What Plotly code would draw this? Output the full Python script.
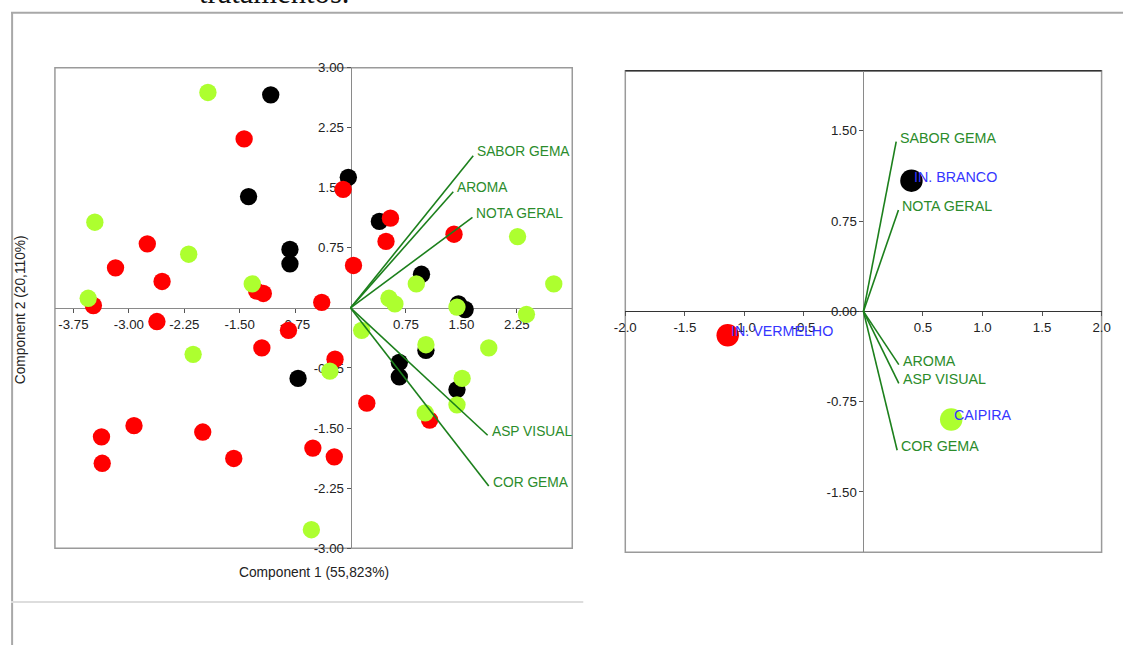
import plotly.graph_objects as go

W, H = 1132, 653

# ---- PCA scores per treatment (Component 1, Component 2) ----
branco_x = [-1.08, -0.03, -1.38, -0.82, -0.82, 0.39, 0.96, 1.46, 1.55, -0.71, 1.02, 0.66, 0.66, 1.44]
branco_y = [2.66, 1.63, 1.39, 0.73, 0.55, 1.08, 0.42, 0.05, -0.02, -0.88, -0.53, -0.68, -0.86, -1.02]

vermelho_x = [-1.44, -0.10, -2.75, -3.18, -2.55, -1.27, -1.18, -3.48, -0.39, 0.04, 0.54, 0.48, 1.40,
              -2.62, -0.84, -1.20, -0.21, -2.93, -3.37, -2.00, -3.36, -1.58, -0.51, -0.22, 0.22, 1.07]
vermelho_y = [2.11, 1.48, 0.80, 0.50, 0.33, 0.21, 0.18, 0.03, 0.07, 0.53, 1.12, 0.83, 0.92,
              -0.17, -0.28, -0.50, -0.64, -1.47, -1.61, -1.55, -1.94, -1.88, -1.75, -1.86, -1.19, -1.40]

caipira_x = [-1.93, -3.46, -2.19, -1.33, -3.55, 2.26, 0.89, 2.75, 0.52, 0.60, 1.44, 2.38,
             -2.13, -0.28, -0.53, 0.15, 1.02, 1.87, 1.51, 1.44, 1.01]
caipira_y = [2.69, 1.07, 0.67, 0.30, 0.12, 0.89, 0.30, 0.30, 0.12, 0.05, 0.01, -0.08,
             -0.58, -0.79, -2.77, -0.28, -0.46, -0.50, -0.88, -1.21, -1.31]

# ---- variable loadings ----
variables = ["SABOR GEMA", "AROMA", "NOTA GERAL", "ASP VISUAL", "COR GEMA"]
load_scores_x = [1.66, 1.39, 1.65, 1.855, 1.87]
load_scores_y = [1.90, 1.45, 1.13, -1.59, -2.225]

load_means_x = [0.275, 0.297, 0.294, 0.297, 0.283]
load_means_y = [1.41, -0.442, 0.842, -0.598, -1.153]

# ---- treatment means ----
groups = ["IN. BRANCO", "IN. VERMELHO", "CAIPIRA"]
group_colors = ["#000000", "#ff0000", "#adff2f"]
mean_x = [0.403, -1.14, 0.737]
mean_y = [1.086, -0.198, -0.898]

# ---- axis ticks ----
left_xticks = [-3.75, -3.00, -2.25, -1.50, -0.75, 0.75, 1.50, 2.25]
left_yticks = [3.00, 2.25, 1.50, 0.75, -0.75, -1.50, -2.25, -3.00]
right_xticks = [-2.0, -1.5, -1.0, -0.5, 0.5, 1.0, 1.5, 2.0]
right_yticks = [1.50, 0.75, 0.00, -0.75, -1.50]

LINE_GREEN = "#1c801c"
TEXT_GREEN = "#2b8c2b"
TEXT_BLUE = "#3535ff"
FONT = "Liberation Sans, Arial, sans-serif"

# Layout positions are measured in sheet pixels; the canvas shows the sheet
# at a slight reduction with an offset, so convert through that calibration.
SX, OX = 0.9817, 11.1
SY, OY = 0.978, 6.3
K = 1 / ((SX + SY) / 2)  # size correction for fonts / markers


def px_x(px):
    return ((px - OX) / SX) / W


def px_y(py):
    return 1 - ((py - OY) / SY) / H


# plot areas in paper space
L_dom_x = [px_x(55), px_x(572)]
L_dom_y = [px_y(548), px_y(67)]
R_dom_x = [px_x(625), px_x(1101)]
R_dom_y = [px_y(552), px_y(70)]

L_xr, L_yr = [-4, 3], [-3, 3]
R_xr, R_yr = [-2, 2], [-2, 2]


def zero_pos(dom, rng):
    return dom[0] + (0 - rng[0]) / (rng[1] - rng[0]) * (dom[1] - dom[0])


def segs(xs, ys):
    sx, sy = [], []
    for a, b in zip(xs, ys):
        sx += [0, a, None]
        sy += [0, b, None]
    return sx, sy


fig = go.Figure()

# left biplot: scores
for xs, ys, col in [(branco_x, branco_y, group_colors[0]),
                    (vermelho_x, vermelho_y, group_colors[1]),
                    (caipira_x, caipira_y, group_colors[2])]:
    fig.add_trace(go.Scatter(x=xs, y=ys, mode="markers", xaxis="x", yaxis="y",
                             marker=dict(size=17 * K, color=col, line=dict(width=0)),
                             showlegend=False, hoverinfo="skip"))

lx, ly = segs(load_scores_x, load_scores_y)
fig.add_trace(go.Scatter(x=lx, y=ly, mode="lines", xaxis="x", yaxis="y",
                         line=dict(color=LINE_GREEN, width=1.6), showlegend=False, hoverinfo="skip"))

# right biplot: loadings and treatment means
rx, ry = segs(load_means_x, load_means_y)
fig.add_trace(go.Scatter(x=rx, y=ry, mode="lines", xaxis="x2", yaxis="y2",
                         line=dict(color=LINE_GREEN, width=1.6), showlegend=False, hoverinfo="skip"))
fig.add_trace(go.Scatter(x=mean_x, y=mean_y, mode="markers", xaxis="x2", yaxis="y2",
                         marker=dict(size=22 * K, color=group_colors, line=dict(width=0)),
                         showlegend=False, hoverinfo="skip"))

annotations = []
for name, x, y in zip(variables, load_scores_x, load_scores_y):
    annotations.append(dict(x=x, y=y, xref="x", yref="y", text=name, showarrow=False,
                            xanchor="left", yanchor="middle", xshift=2, yshift=4,
                            font=dict(family=FONT, size=13.5 * K, color=TEXT_GREEN)))
for name, x, y in zip(variables, load_means_x, load_means_y):
    annotations.append(dict(x=x, y=y, xref="x2", yref="y2", text=name, showarrow=False,
                            xanchor="left", yanchor="middle", xshift=2, yshift=4,
                            font=dict(family=FONT, size=14 * K, color=TEXT_GREEN)))
for name, x, y in zip(groups, mean_x, mean_y):
    annotations.append(dict(x=x, y=y, xref="x2", yref="y2", text=name, showarrow=False,
                            xanchor="left", yanchor="middle", xshift=1, yshift=4,
                            font=dict(family=FONT, size=14 * K, color=TEXT_BLUE)))

annotations += [
    dict(x=px_x(313.5), y=px_y(572), xref="paper", yref="paper", text="Component 1 (55,823%)",
         showarrow=False, xanchor="center", yanchor="middle",
         font=dict(family=FONT, size=13.5 * K, color="#222222")),
    dict(x=px_x(20), y=px_y(309), xref="paper", yref="paper", text="Component 2 (20,110%)",
         showarrow=False, xanchor="center", yanchor="middle", textangle=-90,
         font=dict(family=FONT, size=13.5 * K, color="#222222")),
    # caption line running off the top of the sheet
    dict(x=px_x(274), y=1, xref="paper", yref="paper", text="tratamentos.",
         showarrow=False, xanchor="center", yanchor="middle", yshift=14,
         font=dict(family="Liberation Serif, Times New Roman, serif", size=30 * K, color="#111111")),
]

tickfont = dict(family=FONT, size=13 * K, color="#222222")


def axis(dom, rng, tickvals, fmt, pos, color):
    return dict(domain=dom, range=rng, anchor="free", position=pos,
                tickmode="array", tickvals=tickvals, ticktext=[fmt.format(v) for v in tickvals],
                ticks="outside", ticklen=4, tickcolor="#555555", tickfont=tickfont,
                showline=True, linecolor=color, linewidth=1, showgrid=False, zeroline=False,
                layer="below traces", fixedrange=True)


fig.update_layout(
    width=W, height=H, autosize=False,
    margin=dict(l=0, r=0, t=0, b=0),
    paper_bgcolor="white", plot_bgcolor="white",
    xaxis=axis(L_dom_x, L_xr, left_xticks, "{:.2f}", zero_pos(L_dom_y, L_yr), "#8a8a8a"),
    yaxis=axis(L_dom_y, L_yr, left_yticks, "{:.2f}", zero_pos(L_dom_x, L_xr), "#8a8a8a"),
    xaxis2=axis(R_dom_x, R_xr, right_xticks, "{:.1f}", zero_pos(R_dom_y, R_yr), "#333333"),
    yaxis2=axis(R_dom_y, R_yr, right_yticks, "{:.2f}", zero_pos(R_dom_x, R_xr), "#8a8a8a"),
    annotations=annotations,
    shapes=[
        # plot frames
        dict(type="rect", xref="paper", yref="paper", x0=L_dom_x[0], x1=L_dom_x[1],
             y0=L_dom_y[0], y1=L_dom_y[1], line=dict(color="#9a9a9a", width=1.5), layer="below"),
        dict(type="rect", xref="paper", yref="paper", x0=R_dom_x[0], x1=R_dom_x[1],
             y0=R_dom_y[0], y1=R_dom_y[1], line=dict(color="#9a9a9a", width=1.5), layer="below"),
        dict(type="line", xref="paper", yref="paper", x0=R_dom_x[0], x1=R_dom_x[1],
             y0=R_dom_y[1], y1=R_dom_y[1], line=dict(color="#333333", width=1.5), layer="below"),
        # sheet frame
        dict(type="line", xref="paper", yref="paper", x0=0, x1=1, y0=px_y(12), y1=px_y(12),
             line=dict(color="#a8a8a8", width=2)),
        dict(type="line", xref="paper", yref="paper", x0=0.001, x1=0.001, y0=0, y1=px_y(12),
             line=dict(color="#a8a8a8", width=2)),
        dict(type="line", xref="paper", yref="paper", x0=0, x1=px_x(583), y0=px_y(602), y1=px_y(602),
             line=dict(color="#dddddd", width=2)),
    ],
)

fig.write_html("out.html")
